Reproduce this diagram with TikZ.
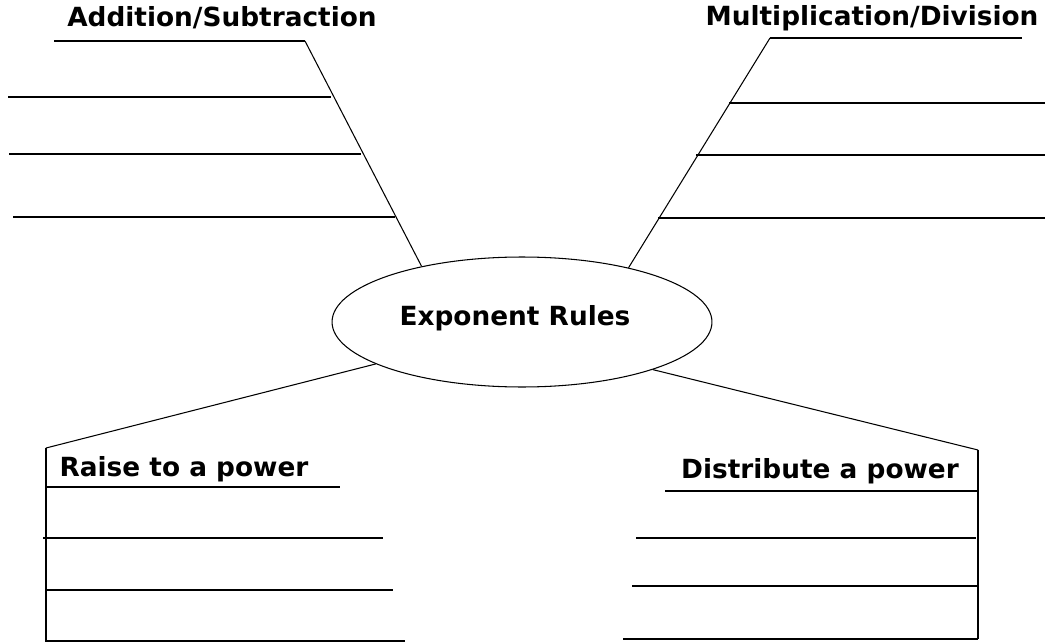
\documentclass[tikz,border=0pt]{standalone}
\usepackage{fontspec}
\setmainfont{DejaVu Sans}
\usetikzlibrary{shapes.geometric}
\tikzstyle{topic} = [ellipse, draw=black, line width=0.6pt, minimum width=7.6cm, minimum height=2.6cm, inner sep=0pt, font=\bfseries\fontsize{15}{18}\selectfont]
\tikzstyle{heading} = [inner sep=0pt, font=\bfseries\fontsize{15}{18}\selectfont]
\tikzstyle{rule} = [line width=0.6pt]

\begin{document}
\begin{tikzpicture}[x=0.02cm, y=-0.02cm]
\useasboundingbox (0,0) rectangle (1045,642);

\node (ell) [topic] at (522,322) {};
\node (title) [heading] at (515,318) {Exponent Rules};

\node (add) [heading] at (222,18) {Addition/Subtraction};
\node (mul) [heading] at (872,18) {Multiplication/Division};
\node (rai) [heading] at (184,469) {Raise to a power};
\node (dis) [heading] at (820,471) {Distribute a power};

\coordinate (addc) at (305,41);
\coordinate (mulc) at (770,38);
\coordinate (raic) at (46,448);
\coordinate (disc) at (978,450);

% branches
\draw [rule] (ell.151.7) -- (addc);
\draw [rule] (ell.27.6) -- (mulc);
\draw [rule] (ell.196.7) -- (raic);
\draw [rule] (ell.-20.9) -- (disc);

% addition / subtraction
\draw [rule] (54,41) -- (addc);
\draw [rule] (8,97) -- (331,97);
\draw [rule] (9,154) -- (361,154);
\draw [rule] (13,217) -- (395,217);

% multiplication / division
\draw [rule] (mulc) -- (1022,38);
\draw [rule] (729,103) -- (1045,103);
\draw [rule] (696,155) -- (1045,155);
\draw [rule] (658,218) -- (1045,218);

% raise to a power
\draw [rule] (raic) -- (46,642);
\draw [rule] (46,487) -- (340,487);
\draw [rule] (43,538) -- (383,538);
\draw [rule] (45,590) -- (393,590);
\draw [rule] (45,641) -- (405,641);

% distribute a power
\draw [rule] (disc) -- (978,639);
\draw [rule] (665,491) -- (978,491);
\draw [rule] (636,538) -- (976,538);
\draw [rule] (632,586) -- (978,586);
\draw [rule] (623,639) -- (978,639);

\end{tikzpicture}
\end{document}
